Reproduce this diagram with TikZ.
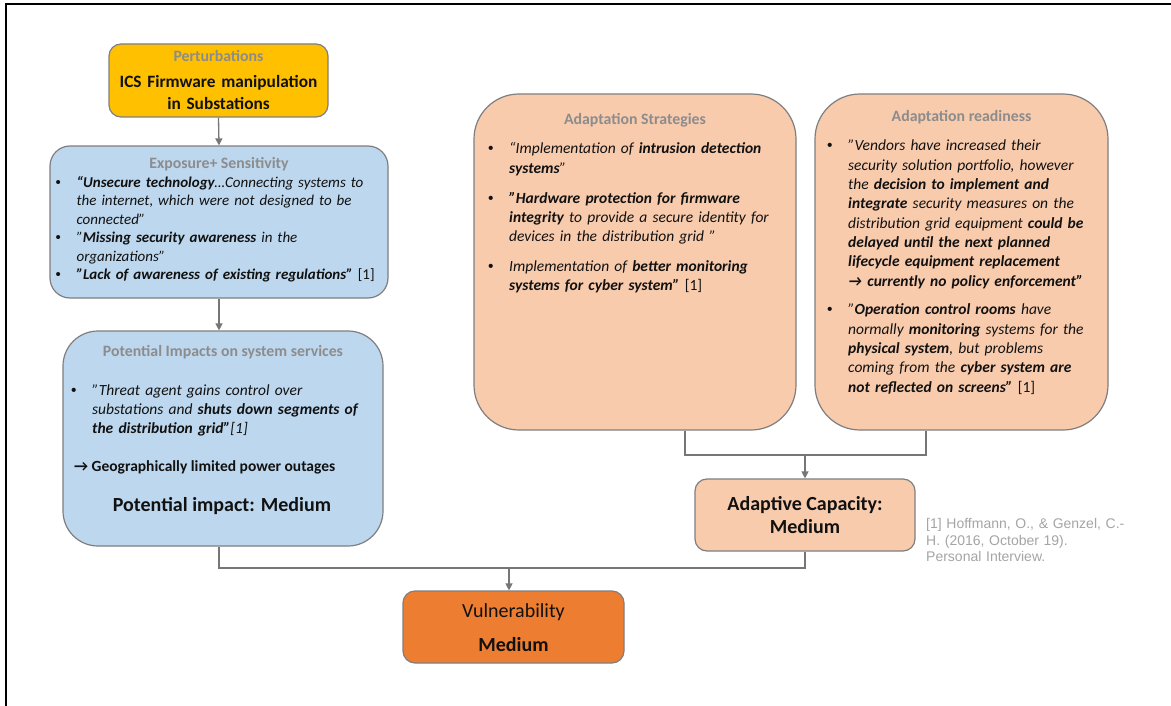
\documentclass[tikz,border=0pt]{standalone}
\usepackage{fontspec}
\setmainfont{Carlito}
\newfontfamily\reffont{Liberation Sans}
\usetikzlibrary{arrows.meta}

\definecolor{pertfill}{HTML}{FFC000}
\definecolor{bluefill}{HTML}{BDD7EE}
\definecolor{peachfill}{HTML}{F8CBAD}
\definecolor{vulnfill}{HTML}{ED7D31}
\definecolor{edgegray}{HTML}{7F7F7F}
\definecolor{titlegray}{HTML}{8C8C8C}
\definecolor{linkgray}{HTML}{767676}
\definecolor{refgray}{HTML}{A5A5A5}
\definecolor{inkblack}{HTML}{111111}

% bullet item with hanging indent; lines are broken by hand with \newline
\newcommand{\bitem}[1]{\hangindent=21pt\hangafter=1\makebox[21pt][l]{\reffont\upshape\mdseries\textbullet}#1\par}

\tikzset{
  box/.style={draw=edgegray, line width=1.2pt, inner sep=0pt, rectangle},
  boxtitle/.style={anchor=base, inner sep=0pt, text=titlegray,
    font=\fontsize{15.8}{19}\selectfont\bfseries},
  bodytext/.style={anchor=base west, inner sep=0pt, align=left, text=inkblack},
  bigtext/.style={anchor=base, inner sep=0pt, text=inkblack,
    font=\fontsize{20}{24}\selectfont\bfseries},
  link/.style={draw=linkgray, line width=1.3pt},
  arr/.style={link, -{Triangle[length=7pt,width=7pt]}}
}

\begin{document}
\begin{tikzpicture}[x=1pt,y=-1pt]
\useasboundingbox (0,0) rectangle (1171,706);
\fill[white] (0,0) rectangle (1171,706);
\draw[line width=2.2pt] (1171,4) -- (6,4) -- (6,706);

% ---------- boxes ----------
\node[box, fill=pertfill, rounded corners=12pt, minimum width=219pt, minimum height=73pt] (pert) at (218.5,80.5) {};
\node[box, fill=bluefill, rounded corners=20pt, minimum width=338pt, minimum height=152pt] (expo) at (219,222) {};
\node[box, fill=bluefill, rounded corners=35pt, minimum width=320pt, minimum height=215pt] (pot) at (223,438.5) {};
\node[box, fill=peachfill, rounded corners=45pt, minimum width=322pt, minimum height=336pt] (strat) at (635,262) {};
\node[box, fill=peachfill, rounded corners=45pt, minimum width=293pt, minimum height=336pt] (ready) at (961.5,262) {};
\node[box, fill=peachfill, rounded corners=12pt, minimum width=220pt, minimum height=72pt] (adapt) at (805,515) {};
\node[box, fill=vulnfill, rounded corners=12pt, minimum width=221pt, minimum height=72pt] (vuln) at (513.5,627) {};

% ---------- perturbations ----------
\node[boxtitle] (pertT) at (218.5,62) {Perturbations};
\node[anchor=base, inner sep=0pt, text width=215pt, align=center, text=inkblack,
  font=\fontsize{17.3}{22}\selectfont\bfseries] (pertX) at (218.5,87.3)
  {ICS Firmware manipulation\\in Substations};

% ---------- exposure + sensitivity ----------
\node[boxtitle] (expoT) at (219,168.3) {Exposure+ Sensitivity};
\node[bodytext, text width=330pt, font=\itshape\fontsize{15}{18.5}\selectfont] (expoX) at (55.4,187.5) {%
\bitem{\textbf{“Unsecure technology}…Connecting systems to\newline the internet, which were not designed to be\newline connected”}%
\bitem{”\textbf{Missing security awareness} in the\newline organizations”}%
\bitem{\textbf{”Lack of awareness of existing regulations”} \textup{[1]}}};

% ---------- potential impacts ----------
\node[boxtitle] (potT) at (223,356.7) {Potential Impacts on system services};
\node[bodytext, text width=310pt, font=\itshape\fontsize{15.5}{19.2}\selectfont] (potX) at (71,395) {%
\bitem{”Threat agent gains control over\newline substations and \textbf{shuts down segments of\newline the distribution grid”}[1]}};
\node[bodytext, font=\fontsize{15.5}{19}\selectfont\bfseries] (potA) at (74,471) {→ Geographically limited power outages};
\node[bigtext] (potM) at (222,511) {Potential impact: Medium};

% ---------- adaptation strategies ----------
\node[boxtitle] (stratT) at (635,125) {Adaptation Strategies};
\node[bodytext, text width=300pt, font=\itshape\fontsize{15.5}{19.3}\selectfont] (stratX) at (488,154) {%
\setlength{\parskip}{10.5pt}%
\bitem{“Implementation of \textbf{intrusion detection\newline systems}”}%
\bitem{\textbf{”Hardware protection for firmware\newline integrity} to provide a secure identity for\newline devices in the distribution grid ”}%
\bitem{Implementation of \textbf{better monitoring\newline systems for cyber system”} \textup{[1]}}};

% ---------- adaptation readiness ----------
\node[boxtitle] (readyT) at (961.5,121.7) {Adaptation readiness};
\node[bodytext, text width=278pt, font=\itshape\fontsize{15.5}{19.3}\selectfont] (readyX) at (827,151) {%
\setlength{\parskip}{9.5pt}%
\bitem{”Vendors have increased their\newline security solution portfolio, however\newline the \textbf{decision to implement and\newline integrate} security measures on the\newline distribution grid equipment \textbf{could be\newline delayed until the next planned\newline lifecycle equipment replacement\newline → currently no policy enforcement”}}%
\bitem{”\textbf{Operation control rooms} have\newline normally \textbf{monitoring} systems for the\newline \textbf{physical system}, but problems\newline coming from the \textbf{cyber system are\newline not reflected on screens”} \textup{[1]}}};

% ---------- adaptive capacity ----------
\node[bigtext] (adaptT) at (805,510) {Adaptive Capacity:};
\node[bigtext] (adaptM) at (805,533.3) {Medium};

% ---------- vulnerability ----------
\node[bigtext, font=\fontsize{20}{24}\selectfont] (vulnT) at (513.5,617.3) {Vulnerability};
\node[bigtext] (vulnM) at (513.5,651) {Medium};

% ---------- reference ----------
\node[anchor=base west, inner sep=0pt, text width=210pt, align=left, text=refgray,
  font=\reffont\fontsize{14}{16.5}\selectfont] (refX) at (926,528.5)
  {[1] Hoffmann, O., \& Genzel, C.-\\H. (2016, October 19).\\Personal Interview.};

% ---------- connectors ----------
\coordinate (sL) at (685,0);
\coordinate (sR) at (926,0);
\coordinate (jA) at (805,455);
\coordinate (pX) at (219,0);
\coordinate (bY) at (0,568);
\coordinate (jB) at (509,568);

\draw[arr] (pert.south) -- (expo.north);
\draw[arr] (expo.south) -- (pot.north -| expo.south);
\draw[link] (strat.south -| sL) |- (jA) -| (ready.south -| sR);
\draw[arr] (jA) -- (adapt.north);
\draw[link] (pot.south -| pX) |- (adapt.south |- bY) -- (adapt.south);
\draw[arr] (jB) -- (vuln.north -| jB);
\end{tikzpicture}
\end{document}
